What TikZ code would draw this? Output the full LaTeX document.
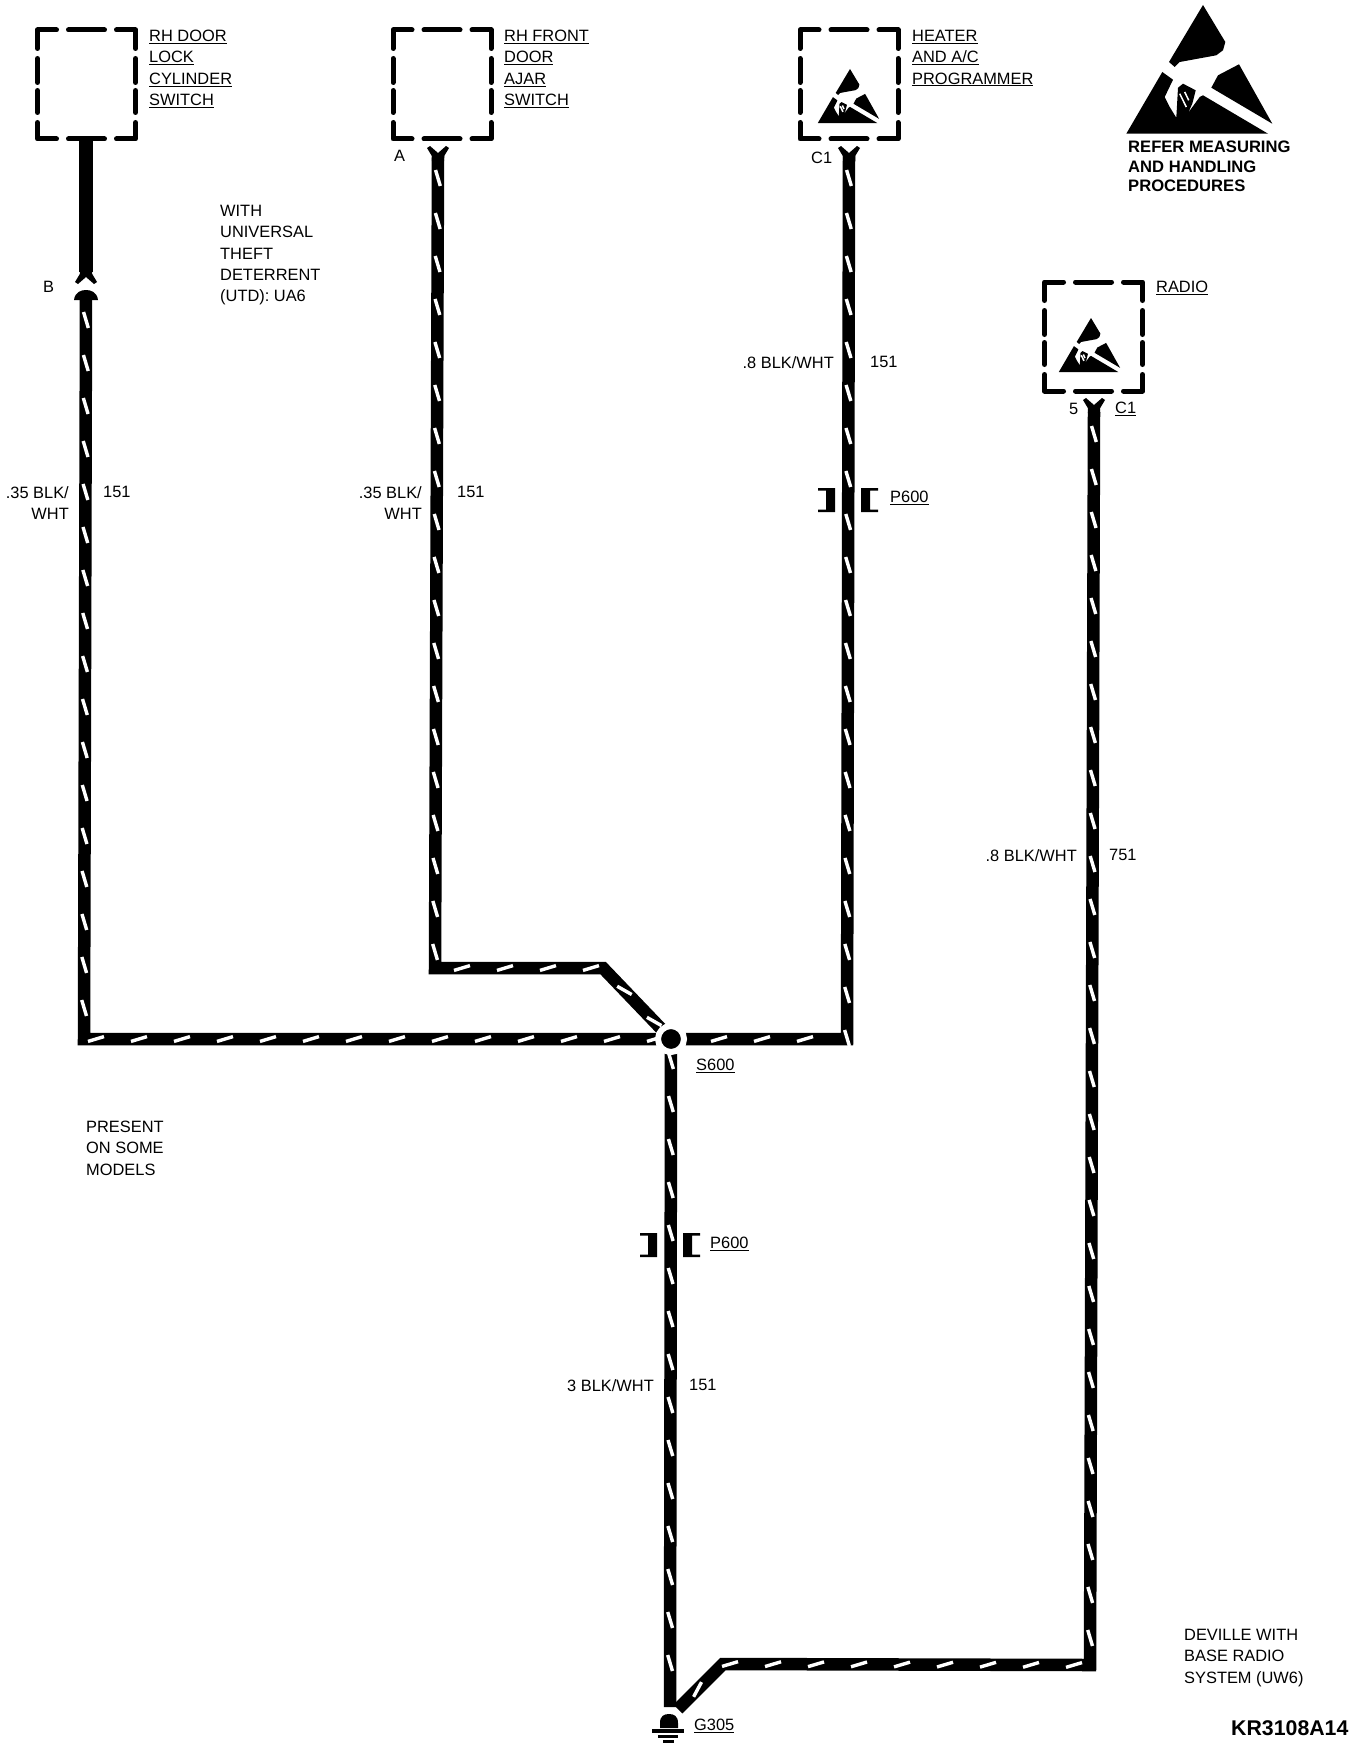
\documentclass[tikz,border=0pt]{standalone}
\usepackage{fontspec}
\setmainfont{Liberation Sans}
\usetikzlibrary{decorations.markings}
\newcommand{\lbl}[1]{\underline{#1}}
\tikzset{
  txt/.style={inner sep=0pt,align=left,anchor=north west,font=\fontsize{16.4}{21.3}\selectfont},
  txtr/.style={txt,align=right,anchor=north east},
  txtb/.style={txt,font=\fontsize{16.6}{19.6}\selectfont\bfseries},
  boxline/.style={line width=5pt,line join=round,line cap=round},
  wirebase/.style={line width=12.5pt,line join=miter},
  wire/.style={wirebase,postaction={decorate},decoration={markings,
    mark=between positions 22pt and -8pt step 43pt with {\draw[white,line width=3.4pt](-8,2.4)--(8,-2.4);}}},
  forkend/.pic={\fill(-11,2)--(-8,0)--(0,7)--(8,0)--(11,2)--(6.2,10)--(6.2,15)--(-6.2,15)--(-6.2,10)--cycle;},
  plugpair/.pic={\foreach \s in {1,-1}{\fill[xscale=\s](-30,-12)--(-13,-12)--(-13,12)--(-30,12)--(-30,9.5)--(-22,9.5)--(-22,-9.5)--(-30,-9.5)--cycle;}},
  esd/.pic={
    \fill(0,0)--(22.3,37)--(20,45.3)--(13.3,50.3)--(-23.3,57)--(-28.3,62)--(-34,57)--cycle;
    \fill(36,59.3)--(69.3,118.7)--(8.3,82.7)--(15,70.3)--cycle;
    \fill(-76.7,128.7)--(-40.7,67)--(-30,74.7)--(-38.3,92)--(-33.3,102)--(-26.7,112.7)--(-25,82.7)--(-20,78.7)--(-7.3,85.3)--(-10.7,98.7)--(-15,108)--(-3.3,92)--(0,90.3)--(65,128.7)--cycle;
    \draw[white,line width=1.5pt](-23.3,88.7)--(-16.7,102);
    \draw[white,line width=1.5pt](-18.3,87)--(-14.3,95.3);}
}
\newcommand{\devbox}[3]{\begin{scope}[shift={(#2,#3)}]
  \node[minimum width=98pt,minimum height=109pt,inner sep=0pt](#1)at(0,0){};
  \draw[boxline](-49,-36)--(-49,-54.5)--(-30,-54.5);
  \draw[boxline](-18,-54.5)--(18,-54.5);
  \draw[boxline](30,-54.5)--(49,-54.5)--(49,-36);
  \draw[boxline](49,-26)--(49,-2);
  \draw[boxline](49,6)--(49,28);
  \draw[boxline](49,38)--(49,54.5)--(30,54.5);
  \draw[boxline](18,54.5)--(-18,54.5);
  \draw[boxline](-30,54.5)--(-49,54.5)--(-49,38);
  \draw[boxline](-49,28)--(-49,6);
  \draw[boxline](-49,-2)--(-49,-26);
\end{scope}}
\begin{document}
\begin{tikzpicture}[x=1pt,y=-1pt]
\useasboundingbox(0,0)rectangle(1360,1750);
\fill[white](0,0)rectangle(1360,1750);
% modules
\devbox{lockbox}{86.5}{84.5}
\devbox{ajarbox}{442}{84.5}
\devbox{heatbox}{849}{84.5}
\devbox{radiobox}{1093.5}{336.5}
\pic[scale=.42] at(850,69){esd};
\pic[scale=.42] at(1091,318){esd};
\pic at(1203,5){esd};
% wires
\coordinate(spl) at(671,1039);
\coordinate(lockend) at(86,139);
\coordinate(lockfork) at(86,272);
\coordinate(lockpin) at(86,298);
\coordinate(lockbend) at(84,1039);
\coordinate(ajarpin) at(438,156);
\coordinate(ajarbend) at(435,968);
\coordinate(ajarkink) at(603,968);
\coordinate(heatpin) at(849,156);
\coordinate(heatbend) at(847,1039);
\coordinate(radiopin) at(1094,412);
\coordinate(radiobend) at(1090,1665);
\coordinate(gndkink) at(723,1664);
\coordinate(gndtop) at(670,1707);
\coordinate(gndslant) at(678,1709);
\draw[wirebase,line width=14pt](lockend)--(lockfork);
\draw[wire](lockpin)--(lockbend)--(spl);
\draw[wire](ajarpin)--(ajarbend)--(ajarkink)--(spl);
\draw[wire](heatpin)--(heatbend)--(spl);
\draw[wire](spl)--(gndtop);
\draw[wire](radiopin)--(radiobend)--(gndkink)--(gndslant);
\pic[yscale=-1] at(86,284){forkend};
\fill(74,300)..controls(75,292)and(81,290)..(86,290)..controls(91,290)and(97,292)..(98,300)--cycle;
\pic at(438,146){forkend};
\pic at(849,146){forkend};
\pic at(1094,398){forkend};
% splice, plugs and ground
\node[circle,fill=black,draw=white,line width=6pt,minimum size=26pt,inner sep=0pt](s600) at(spl){};
\pic at(848,500){plugpair};
\pic at(670,1245){plugpair};
\node[inner sep=0pt,minimum size=16pt](g305) at(669,1722){};
\fill(660,1728)--(660,1723)..controls(660,1716)and(664,1714)..(669,1714)..controls(674,1714)and(678,1716)..(678,1723)--(678,1728)--cycle;
\draw[line width=3.5pt](652,1731)--(684,1731);
\draw[line width=2.5pt](658,1736.5)--(678,1736.5);
\draw[line width=2.5pt](663,1741.5)--(674,1741.5);
% labels
\node[txt](t1) at(149,30){\lbl{RH DOOR}\\\lbl{LOCK}\\\lbl{CYLINDER}\\\lbl{SWITCH}};
\node[txt](t2) at(504,30){\lbl{RH FRONT}\\\lbl{DOOR}\\\lbl{AJAR}\\\lbl{SWITCH}};
\node[txt](t3) at(912,30){\lbl{HEATER}\\\lbl{AND A/C}\\\lbl{PROGRAMMER}};
\node[txtb](t4) at(1128,141){REFER MEASURING\\AND HANDLING\\PROCEDURES};
\node[txt](t5) at(1156,281){\lbl{RADIO}};
\node[txt](t6) at(220,205){WITH\\UNIVERSAL\\THEFT\\DETERRENT\\(UTD): UA6};
\node[txt](pa) at(394,150){A};
\node[txt](pb) at(43,281){B};
\node[txt](pc) at(811,152){C1};
\node[txt](pd) at(1069,403){5};
\node[txt](pe) at(1115,402){\lbl{C1}};
\node[txtr](w1) at(69,486){.35 BLK/\\WHT};
\node[txt](n1) at(103,486){151};
\node[txtr](w2) at(422,486){.35 BLK/\\WHT};
\node[txt](n2) at(457,486){151};
\node[txtr](w3) at(834,356){.8 BLK/WHT};
\node[txt](n3) at(870,356){151};
\node[txt](p1) at(890,491){\lbl{P600}};
\node[txtr](w4) at(1077,849){.8 BLK/WHT};
\node[txt](n4) at(1109,849){751};
\node[txt](t7) at(696,1059){\lbl{S600}};
\node[txt](t8) at(86,1121){PRESENT\\ON SOME\\MODELS};
\node[txt](p2) at(710,1237){\lbl{P600}};
\node[txtr](w5) at(654,1379){3 BLK/WHT};
\node[txt](n5) at(689,1379){151};
\node[txt](t9) at(694,1719){\lbl{G305}};
\node[txt](t10) at(1184,1629){DEVILLE WITH\\BASE RADIO\\SYSTEM (UW6)};
\node[txtb,font=\fontsize{21.3}{24}\selectfont\bfseries](t11) at(1231,1720){KR3108A14};
\end{tikzpicture}
\end{document}
